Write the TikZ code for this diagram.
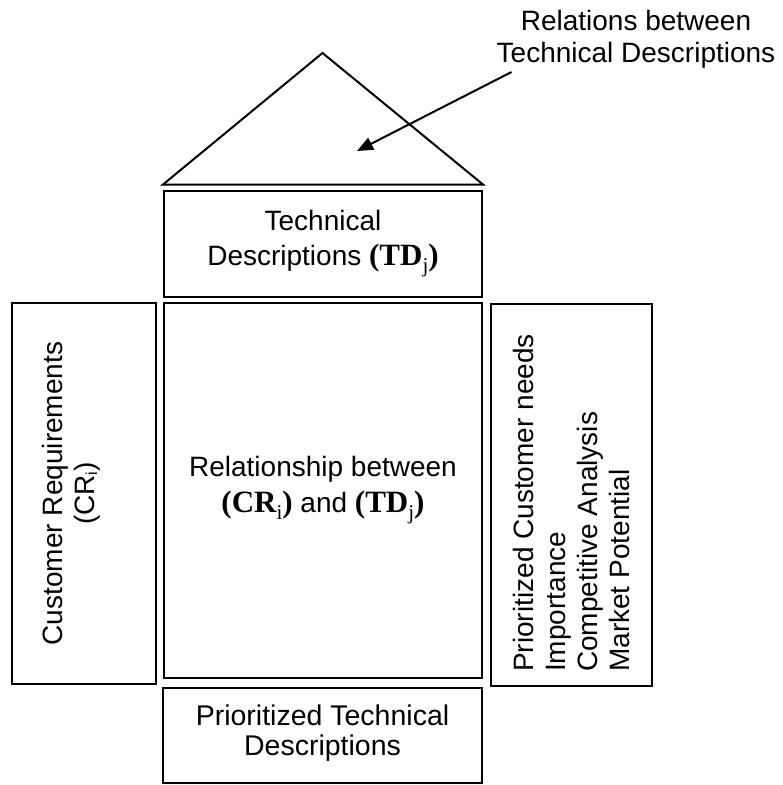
\documentclass[tikz,border=0pt]{standalone}
\usepackage{fontspec}
\setmainfont{Liberation Sans}
\newfontfamily\tms{Liberation Serif}
\usetikzlibrary{arrows.meta}
% subscript set in the serif face, lowered
\newcommand{\lowsub}[1]{\raisebox{-7pt}{\mdseries\fontsize{21}{21}\selectfont #1}}
% serif symbol group such as (TD_j)
\newcommand{\sym}[2]{{\tms\bfseries\fontsize{31}{32}\selectfont(#1\lowsub{#2})}}
\begin{document}
\begin{tikzpicture}[x=1pt,y=-1pt,
  every node/.style={font=\fontsize{28}{32}\selectfont},
  box/.style={draw, line width=2pt, inner sep=0pt},
  txt/.style={inner sep=0pt, align=center},
  roofline/.style={line width=2pt, line join=miter},
  pointer/.style={line width=2pt, -{Triangle[length=16pt,width=13pt]}}]
\useasboundingbox (0,0) rectangle (783,785);

% roof: relations between technical descriptions
\coordinate (apex) at (322.5,53);
\coordinate (eaveL) at (163,184.5);
\coordinate (eaveR) at (483,184.5);
\draw[roofline] (eaveL) -- (apex) -- (eaveR) -- cycle;

\node[txt] (roofnote) at (636,39) {Relations between\\Technical Descriptions};
\coordinate (tail) at (511.5,72);
\coordinate (tip) at (357,151);
\draw[pointer] (tail) -- (tip);

% the rooms of the house
\node[box, minimum width=318pt, minimum height=106pt] (tdbox) at (323,244) {};
\node[box, minimum width=144pt, minimum height=381pt] (crbox) at (84,493.5) {};
\node[box, minimum width=318pt, minimum height=375pt] (relbox) at (323,490.5) {};
\node[box, minimum width=161pt, minimum height=382pt] (prbox) at (571.5,495) {};
\node[box, minimum width=319pt, minimum height=95pt] (ptdbox) at (322.5,735.5) {};

% texts
\node[txt, font=\fontsize{28}{35}\selectfont] (tdtext) at (tdbox) {Technical\\Descriptions \sym{TD}{j}};
\node[txt, rotate=90] (crtext) at (71,493.5) {Customer Requirements\\(CR{\fontsize{16}{16}\selectfont\raisebox{-3pt}{i}})};
\node[txt, font=\fontsize{28}{36}\selectfont] (reltext) at (relbox) {Relationship between\\\sym{CR}{i} and \sym{TD}{j}};
\node[txt, rotate=90, align=left, anchor=west] (prtext) at (571,672) {Prioritized Customer needs\\Importance\\Competitive Analysis\\Market Potential};
\node[txt, font=\fontsize{28.5}{30}\selectfont] (ptdtext) at ([yshift=2pt]ptdbox.center) {Prioritized Technical\\Descriptions};
\end{tikzpicture}
\end{document}
